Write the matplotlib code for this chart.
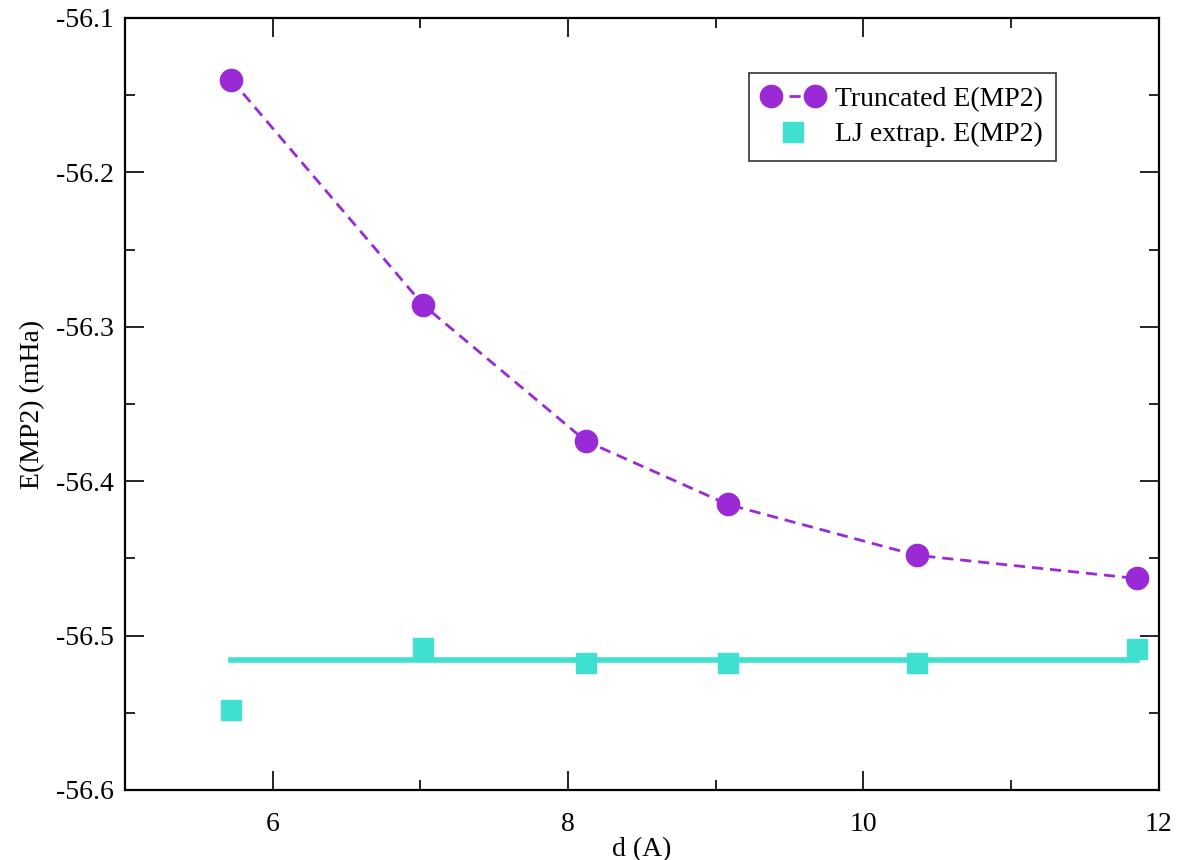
import matplotlib
matplotlib.use("Agg")
import matplotlib.pyplot as plt
from matplotlib.ticker import MultipleLocator
from matplotlib.legend_handler import HandlerLine2D

plt.rcParams['font.family'] = ['Liberation Serif', 'DejaVu Serif']
plt.rcParams['axes.unicode_minus'] = False

# data
d_vals = [5.72, 7.02, 8.12, 9.08, 10.36, 11.85]
e_trunc = [-56.140, -56.286, -56.374, -56.415, -56.448, -56.463]
e_lj = [-56.548, -56.508, -56.518, -56.518, -56.518, -56.509]
lj_mean = -56.516

purple = '#9a2ad6'
cyan = '#40e0d0'

fig = plt.figure(figsize=(11.8, 8.6), dpi=100)
ax = fig.add_axes([0.106, 0.0814, 0.876, 0.8977])

l1, = ax.plot(d_vals, e_trunc, color=purple, ls='--', lw=2, marker='o', ms=16,
              dashes=(4, 2.5), label='Truncated E(MP2)')
l2, = ax.plot(d_vals, e_lj, color=cyan, ls='none', marker='s', ms=14,
              label='LJ extrap. E(MP2)')
ax.plot([d_vals[0], d_vals[-1]], [lj_mean, lj_mean], color=cyan, lw=4)

ax.set_xlim(5, 12)
ax.set_ylim(-56.6, -56.1)
ax.xaxis.set_major_locator(MultipleLocator(2))
ax.xaxis.set_minor_locator(MultipleLocator(1))
ax.yaxis.set_major_locator(MultipleLocator(0.1))
ax.yaxis.set_minor_locator(MultipleLocator(0.05))
ax.tick_params(which='both', direction='in', top=True, right=True,
               labelsize=20, width=1.2)
ax.tick_params(axis='y', pad=8)
ax.tick_params(axis='x', pad=16)
ax.tick_params(which='major', length=14)
ax.tick_params(which='minor', length=7)
for s in ax.spines.values():
    s.set_linewidth(1.6)

ax.set_xlabel('d (A)', fontsize=20, labelpad=0)
ax.set_ylabel('E(MP2) (mHa)', fontsize=20, labelpad=8)

leg = ax.legend(handles=[l1, l2], loc='upper right', bbox_to_anchor=(0.901, 0.929),
                borderaxespad=0, fontsize=20, frameon=True, fancybox=False,
                handlelength=2.2, handletextpad=0.4, borderpad=0.5,
                labelspacing=0.35, numpoints=2,
                handler_map={l2: HandlerLine2D(numpoints=1)})
leg.get_frame().set_edgecolor('black')
leg.get_frame().set_linewidth(1.2)

fig.savefig('out.png', dpi=100)
